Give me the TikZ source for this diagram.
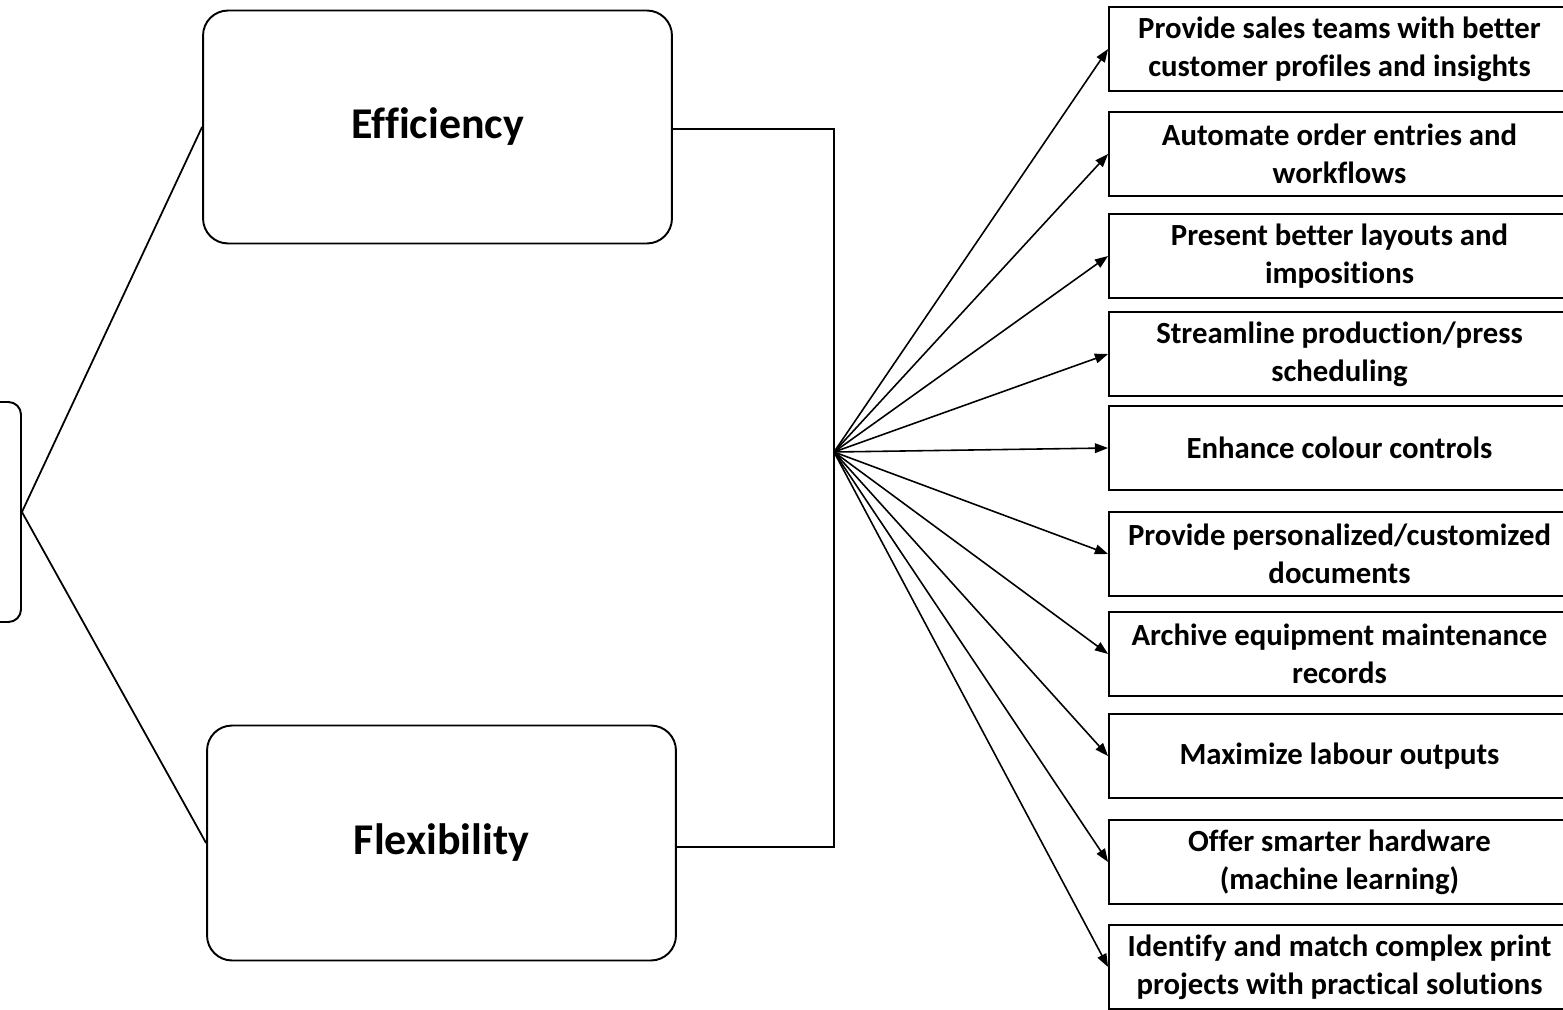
\documentclass[tikz,border=0pt]{standalone}
\usepackage{fontspec}
\setmainfont{Carlito}[Ligatures=CommonOff]
\usetikzlibrary{arrows.meta}

\begin{document}
\begin{tikzpicture}[
    x=0.02cm, y=-0.02cm,
    mainbox/.style={rectangle, draw, line width=1.1pt, rounded corners=0.5cm, minimum width=9.38cm, minimum height=4.66cm, font=\fontsize{25}{30}\selectfont\bfseries},
    goal/.style={rectangle, draw, line width=1.1pt, minimum width=9.22cm, minimum height=1.68cm, align=center, font=\fontsize{17.5}{21.5}\selectfont\bfseries},
    link/.style={line width=1pt},
    arrow/.style={-{Triangle[length=7.5pt,width=5.5pt]}, line width=0.9pt}
]
\clip (0,0) rectangle (1563,1010);

\node[rectangle, draw, line width=1.1pt, rounded corners=0.25cm, minimum width=4.44cm, minimum height=4.4cm] (src) at (-90,512) {};

\node[mainbox] (eff) at (437.5,127) {Efficiency};
\node[mainbox, minimum height=4.7cm] (flex) at (441.5,843) {Flexibility};

\coordinate (hub) at (834,452);

\node[goal] (r1) at (1339.5,49) {Provide sales teams with better\\customer profiles and insights};
\node[goal] (r2) at (1339.5,154) {Automate order entries and\\workflows};
\node[goal] (r3) at (1339.5,256) {Present better layouts and\\impositions};
\node[goal] (r4) at (1339.5,354) {Streamline production/press\\scheduling};
\node[goal] (r5) at (1339.5,448) {Enhance colour controls};
\node[goal] (r6) at (1339.5,554) {Provide personalized/customized\\documents};
\node[goal] (r7) at (1339.5,654) {Archive equipment maintenance\\records};
\node[goal] (r8) at (1339.5,756) {Maximize labour outputs};
\node[goal] (r9) at (1339.5,862) {Offer smarter hardware\\(machine learning)};
\node[goal] (r10) at (1339.5,967) {Identify and match complex print\\projects with practical solutions};

\draw[link] (eff.west) -- (src.east) -- (flex.west);
\draw[link] ([yshift=-0.04cm]eff.east) -| (hub) |- ([yshift=-0.08cm]flex.east);

\foreach \i in {1,...,10}
    \draw[arrow] (hub) -- (r\i.west);
\end{tikzpicture}
\end{document}
